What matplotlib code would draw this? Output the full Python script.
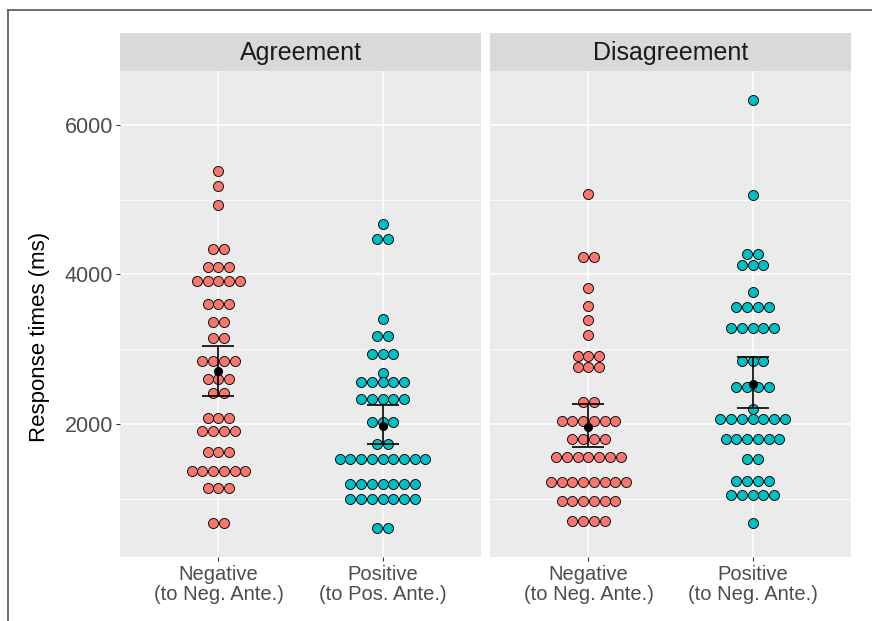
import numpy as np
import matplotlib
matplotlib.use("Agg")
import matplotlib.pyplot as plt
from matplotlib.lines import Line2D

plt.rcParams['font.family'] = ['Liberation Sans', 'DejaVu Sans']

# ---- data (response times, ms): y value of each dot row and how many dots sit in it
agree_neg_y = [5385, 5184, 4930, 4342, 4105, 3917, 3602, 3361, 3147, 2847,
               2602, 2411, 2076, 1906, 1621, 1371, 1148, 679]
agree_neg_n = [1, 1, 1, 2, 3, 5, 3, 2, 2, 4, 3, 2, 3, 4, 3, 6, 3, 2]

agree_pos_y = [4672, 4475, 3401, 3181, 2937, 2678, 2558, 2335, 2023, 1728,
               1528, 1193, 992, 612]
agree_pos_n = [1, 2, 1, 2, 3, 1, 5, 5, 3, 2, 9, 7, 7, 2]

disag_neg_y = [5077, 4239, 3824, 3583, 3392, 3191, 2914, 2759, 2298, 2040,
               1799, 1554, 1228, 970, 702]
disag_neg_n = [1, 2, 1, 1, 1, 1, 3, 3, 2, 6, 4, 7, 8, 6, 4]

disag_pos_y = [6335, 5068, 4275, 4127, 3762, 3570, 3280, 2847, 2491, 2197,
               2063, 1795, 1532, 1237, 1046, 671]
disag_pos_n = [1, 1, 2, 3, 1, 4, 5, 3, 4, 1, 7, 6, 2, 4, 5, 1]

# mean and error bar limits per group
agree_mean = [2713, 1973]
agree_lo = [2375, 1728]
agree_hi = [3044, 2254]
disag_mean = [1956, 2535]
disag_lo = [1696, 2210]
disag_hi = [2263, 2900]

facets = ["Agreement", "Disagreement"]
agree_labels = ["Negative\n(to Neg. Ante.)", "Positive\n(to Pos. Ante.)"]
disag_labels = ["Negative\n(to Neg. Ante.)", "Positive\n(to Neg. Ante.)"]

RED = "#F8766D"
TEAL = "#00BFC4"
W, H = 872, 621
DOT_PX = 10.7


def px_box(x0, y0, x1, y1):
    '''pixel box (top-left origin) to figure fraction'''
    return [x0 / W, 1 - y1 / H, (x1 - x0) / W, (y1 - y0) / H]


def dot_rows(ax, xc, ys, ns, color):
    '''stack dots horizontally, centred on xc, one row per bin'''
    px_per_unit = ax.get_window_extent().width / 2.2
    step = DOT_PX / px_per_unit
    xs, yy = [], []
    for y, n in zip(ys, ns):
        off = (np.arange(n) - (n - 1) / 2) * step
        xs.extend(xc + off)
        yy.extend([y] * n)
    ax.scatter(xs, yy, s=52, facecolor=color, edgecolor="black",
               linewidths=0.65, zorder=3)


def panel(fig, box, strip_box, title, labels, groups, means, los, his,
          show_y):
    ax = fig.add_axes(px_box(*box))
    ax.set_facecolor("#EBEBEB")
    ax.set_xlim(0.4, 2.6)
    ax.set_ylim(221, 6722)
    for s in ax.spines.values():
        s.set_visible(False)
    ax.set_yticks([2000, 4000, 6000])
    ax.set_yticks([1000, 3000, 5000], minor=True)
    ax.set_xticks([1, 2])
    ax.set_xticklabels(labels, fontsize=14.5, color="#4D4D4D",
                       linespacing=1.05)
    if show_y:
        ax.set_yticklabels(["2000", "4000", "6000"], fontsize=15.5,
                           color="#4D4D4D")
    else:
        ax.set_yticklabels([])
    ax.tick_params(axis="both", which="major", length=3, width=0.8,
                   color="#333333", pad=2)
    ax.tick_params(axis="x", which="major", pad=3)
    ax.tick_params(axis="y", which="minor", length=0)
    if not show_y:
        ax.tick_params(axis="y", which="major", length=0)
    ax.grid(True, which="major", color="white", lw=1.2, zorder=0)
    ax.grid(True, which="minor", axis="y", color="white", lw=0.6, zorder=0)
    ax.set_axisbelow(True)

    for i, (ys, ns, col) in enumerate(groups):
        dot_rows(ax, i + 1, ys, ns, col)
    xcat = np.array([1, 2])
    m = np.array(means)
    ax.errorbar(xcat, m, yerr=[m - np.array(los), np.array(his) - m],
                fmt="o", color="black", ms=5.5, elinewidth=1.2,
                capsize=11.5, capthick=1.2, zorder=5)

    st = fig.add_axes(px_box(*strip_box))
    st.set_facecolor("#D9D9D9")
    st.set_xticks([])
    st.set_yticks([])
    for s in st.spines.values():
        s.set_visible(False)
    st.text(0.5, 0.47, title, ha="center", va="center", fontsize=18,
            color="#1A1A1A", transform=st.transAxes)
    return ax


fig = plt.figure(figsize=(W / 100, H / 100), dpi=100)

panel(fig, (120, 71, 481, 557), (120, 33, 481, 70.5), facets[0],
      agree_labels,
      [(agree_neg_y, agree_neg_n, RED), (agree_pos_y, agree_pos_n, TEAL)],
      agree_mean, agree_lo, agree_hi, True)
panel(fig, (490, 71, 851, 557), (490, 33, 851, 70.5), facets[1],
      disag_labels,
      [(disag_neg_y, disag_neg_n, RED), (disag_pos_y, disag_pos_n, TEAL)],
      disag_mean, disag_lo, disag_hi, False)

fig.text(40 / W, 1 - 337 / H, "Response times (ms)", rotation=90,
         ha="center", va="center", fontsize=16, color="black")

# screenshot frame on top and left edges
fig.add_artist(Line2D([8 / W, 1], [1 - 10 / H, 1 - 10 / H],
                      color="#555555", lw=1.2, transform=fig.transFigure))
fig.add_artist(Line2D([8 / W, 8 / W], [0, 1 - 10 / H],
                      color="#555555", lw=1.2, transform=fig.transFigure))

fig.savefig("out.png", dpi=100)
